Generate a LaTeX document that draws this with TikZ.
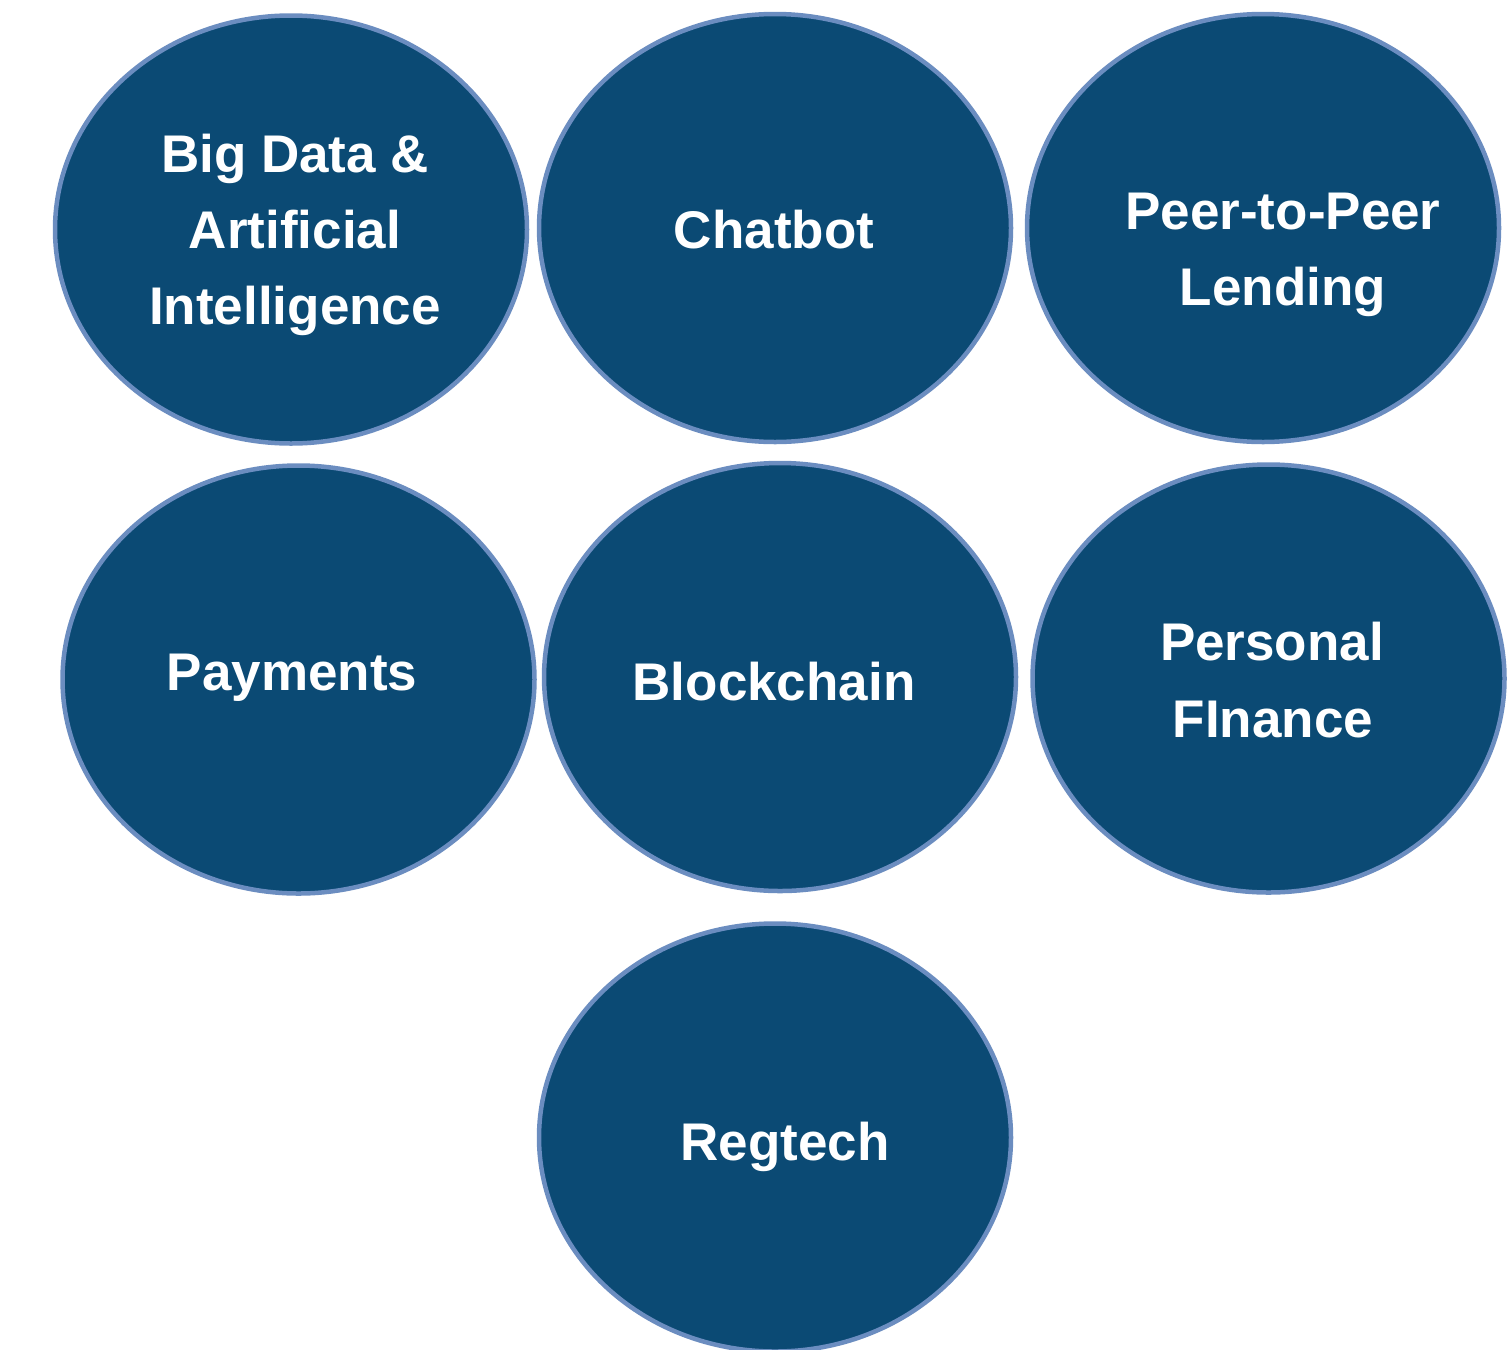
\documentclass[tikz,border=0pt]{standalone}
\usepackage{fontspec}
\setmainfont{Liberation Sans}
\usetikzlibrary{shapes.geometric}
\definecolor{bubblefill}{HTML}{0B4A74}
\definecolor{bubbleedge}{HTML}{6B8DC0}
\begin{document}
\begin{tikzpicture}[x=1pt,y=-1pt,
  bubble/.style={ellipse, draw=bubbleedge, fill=bubblefill, line width=4.5pt,
    minimum width=472pt, minimum height=428pt, inner sep=0pt},
  lbl/.style={anchor=base, inner sep=0pt, text=white,
    font=\fontsize{53}{76}\selectfont\bfseries}]
\useasboundingbox (0,0) rectangle (1511,1349);
\node[bubble] (bigdata) at (291,229.5) {};
\node[bubble] (chatbot) at (775,228) {};
\node[bubble] (p2p) at (1263,228) {};
\node[bubble] (payments) at (298.5,679.5) {};
\node[bubble] (blockchain) at (780,677) {};
\node[bubble] (personal) at (1268.5,678.5) {};
\node[bubble] (regtech) at (775,1137.5) {};
\node[lbl] (t1a) at (295,172) {Big Data \&};
\node[lbl] (t1b) at (295,248) {Artificial};
\node[lbl] (t1c) at (295,324) {Intelligence};
\node[lbl] (t2) at (774,248) {Chatbot};
\node[lbl] (t3a) at (1283,229) {Peer-to-Peer};
\node[lbl] (t3b) at (1283,305) {Lending};
\node[lbl] (t4) at (292,690) {Payments};
\node[lbl] (t5) at (774,700) {Blockchain};
\node[lbl] (t6a) at (1272,660) {Personal};
\node[lbl] (t6b) at (1273,737) {FInance};
\node[lbl] (t7) at (785,1160) {Regtech};
\end{tikzpicture}
\end{document}
